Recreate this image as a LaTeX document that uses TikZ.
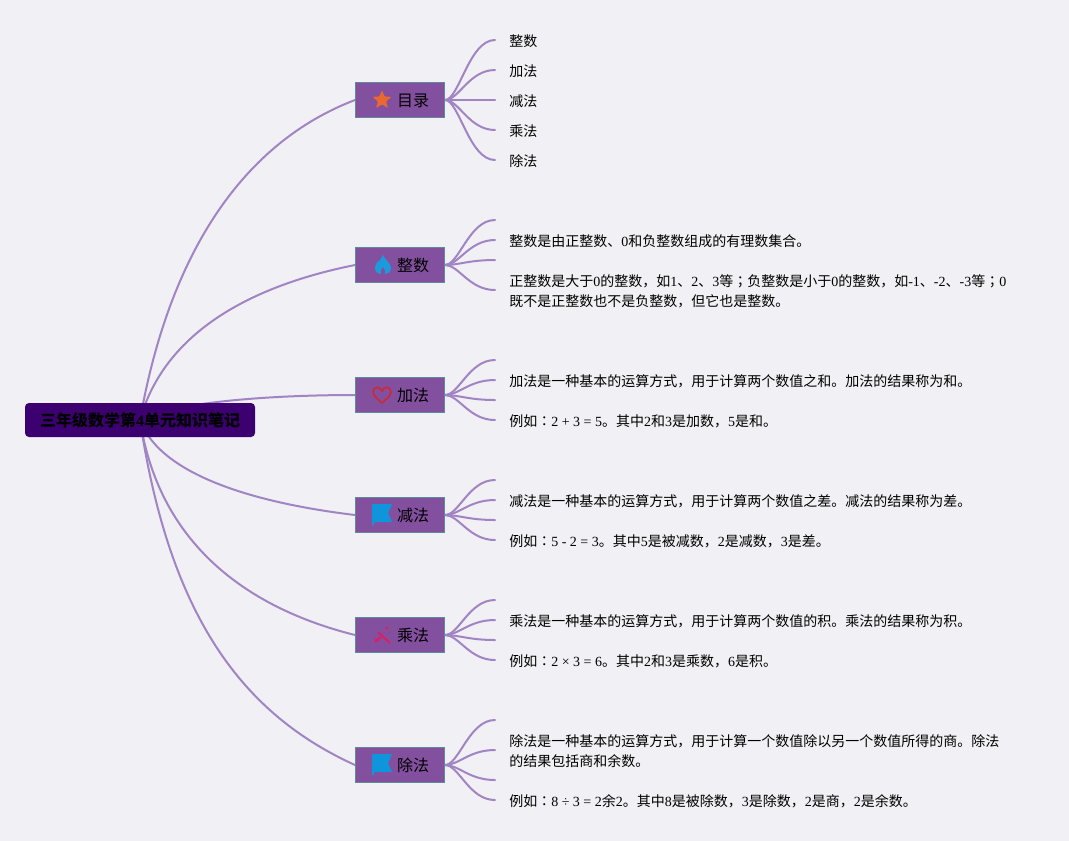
\documentclass[tikz,border=0pt]{standalone}
\usepackage{fontspec}
\setmainfont{Noto Sans CJK SC}
\newfontfamily\latfont{Liberation Serif}
\newfontfamily\jpfont{Noto Sans CJK JP}
\usetikzlibrary{shapes.geometric,backgrounds}
\definecolor{pagecol}{HTML}{F1F0F4}
\definecolor{rootcol}{HTML}{3C0070}
\definecolor{boxcol}{HTML}{83509F}
\definecolor{boxline}{HTML}{5E8A98}
\definecolor{linkcol}{HTML}{A184C4}
\definecolor{starcol}{HTML}{E8682F}
\definecolor{firecol}{HTML}{1C9BDC}
\definecolor{heartcol}{HTML}{C62C3E}
\definecolor{flagcol}{HTML}{0F95DC}
\definecolor{wandcol}{HTML}{D81F68}
\newcommand{\lat}[1]{{\latfont #1}}
\newcommand{\col}{{\jpfont ：}}
\newcommand{\sem}{{\jpfont ；}}
\tikzset{
  rootbox/.style={draw=none,fill=rootcol,rounded corners=3pt,minimum width=172.5pt,minimum height=25.5pt,inner sep=0pt,text height=11.8pt,text depth=2pt,font=\bfseries\fontsize{12pt}{15pt}\selectfont},
  topicbox/.style={draw=boxline,line width=0.75pt,fill=boxcol,minimum width=66.75pt,minimum height=26.25pt,inner sep=0pt,text height=11.8pt,text depth=2pt,font=\fontsize{12pt}{15pt}\selectfont},
  leaf/.style={anchor=west,inner xsep=10.5pt,inner ysep=0pt,align=left,font=\fontsize{10.5pt}{15pt}\selectfont},
  link/.style={draw=linkcol,line width=1.5pt,line cap=round},
  iconstar/.pic={\node[star,star points=5,star point ratio=2.3,fill=starcol,minimum size=15pt,inner sep=0pt,rounded corners=0.7pt] {};},
  iconfire/.pic={\fill[firecol] (0,-10) .. controls (1,-6) and (8,-2) .. (8,3) .. controls (8,7) and (5,9) .. (2,9) .. controls (3,6) and (2,4) .. (0,2) .. controls (-2,4) and (-3,6) .. (-2,9) .. controls (-5,9) and (-8,7) .. (-8,3) .. controls (-8,0) and (-6,-2) .. (-5,-4) .. controls (-4,-3) and (-3,-3) .. (-3,-5) .. controls (-2,-6) and (-1,-8) .. (0,-10) -- cycle;},
  iconheart/.pic={\draw[heartcol,line width=1.4pt,line join=round] (0,8) .. controls (-4,4) and (-9,1) .. (-9,-3) .. controls (-9,-9) and (-2,-9) .. (0,-4) .. controls (2,-9) and (9,-9) .. (9,-3) .. controls (9,1) and (4,4) .. (0,8) -- cycle;},
  iconflag/.pic={\fill[flagcol] (-10,-10) -- (10,-10) -- (6,-1) -- (10,8) -- (-8,8) -- (-8,11) -- (-10,11) -- cycle;},
  iconwand/.pic={\draw[wandcol,line width=1.6pt] (-4,-3) -- (8,8);
    \draw[wandcol,line width=1.6pt] (-7,7) -- (-1,2);
    \fill[wandcol] (-5,5) circle (2) (5,-7) circle (1.6) (8,-3) circle (0.8);},
}
\begin{document}
\begin{tikzpicture}[x=0.75pt,y=-0.75pt]
\useasboundingbox (0,0) rectangle (1069,840);
% centre
\node[rootbox] (root) at (140,420) {三年级数学第\lat{4}单元知识笔记};
% topics
\node[topicbox] (mulu) at (400,100) {\hspace*{19.5pt}目录};
\node[topicbox] (zheng) at (400,265) {\hspace*{19.5pt}整数};
\node[topicbox] (jia) at (400,395) {\hspace*{19.5pt}加法};
\node[topicbox] (jian) at (400,515) {\hspace*{19.5pt}减法};
\node[topicbox] (cheng) at (400,635) {\hspace*{19.5pt}乘法};
\node[topicbox] (chu) at (400,765) {\hspace*{19.5pt}除法};
% icons
\pic at (382,100) {iconstar};
\pic at (383,265) {iconfire};
\pic at (382,395) {iconheart};
\pic at (382,514) {iconflag};
\pic at (382,635) {iconwand};
\pic at (382,764) {iconflag};
% contents, text sits 1 lower than its link end
\node[leaf] (m1) at (495,41) {整数};
\node[leaf] (m2) at (495,71) {加法};
\node[leaf] (m3) at (495,101) {减法};
\node[leaf] (m4) at (495,131) {乘法};
\node[leaf] (m5) at (495,161) {除法};
\coordinate (z1) at (495,221);
\node[leaf] (z2) at (495,241) {整数是由正整数、\lat{0}和负整数组成的有理数集合。};
\coordinate (z3) at (495,261);
\node[leaf] (z4) at (495,291) {正整数是大于\lat{0}的整数，如\lat{1}、\lat{2}、\lat{3}等\sem 负整数是小于\lat{0}的整数，如\lat{-1}、\lat{-2}、\lat{-3}等\sem\lat{0}\\既不是正整数也不是负整数，但它也是整数。};
\coordinate (a1) at (495,361);
\node[leaf] (a2) at (495,381) {加法是一种基本的运算方式，用于计算两个数值之和。加法的结果称为和。};
\coordinate (a3) at (495,401);
\node[leaf] (a4) at (495,421) {例如\col\lat{2 + 3 = 5}。其中\lat{2}和\lat{3}是加数，\lat{5}是和。};
\coordinate (s1) at (495,481);
\node[leaf] (s2) at (495,501) {减法是一种基本的运算方式，用于计算两个数值之差。减法的结果称为差。};
\coordinate (s3) at (495,521);
\node[leaf] (s4) at (495,541) {例如\col\lat{5 - 2 = 3}。其中\lat{5}是被减数，\lat{2}是减数，\lat{3}是差。};
\coordinate (c1) at (495,601);
\node[leaf] (c2) at (495,621) {乘法是一种基本的运算方式，用于计算两个数值的积。乘法的结果称为积。};
\coordinate (c3) at (495,641);
\node[leaf] (c4) at (495,661) {例如\col\lat{2 × 3 = 6}。其中\lat{2}和\lat{3}是乘数，\lat{6}是积。};
\coordinate (d1) at (495,721);
\node[leaf] (d2) at (495,751) {除法是一种基本的运算方式，用于计算一个数值除以另一个数值所得的商。除法\\的结果包括商和余数。};
\coordinate (d3) at (495,781);
\node[leaf] (d4) at (495,801) {例如\col\lat{8 ÷ 3 = 2}余\lat{2}。其中\lat{8}是被除数，\lat{3}是除数，\lat{2}是商，\lat{2}是余数。};
\begin{pgfonlayer}{background}
\fill[pagecol] (-2,-2) rectangle (1071,842);
% from the centre
\draw[link] (root.center) .. controls +(30,-170) and +(-110,42) .. (mulu.west);
\draw[link] (root.center) .. controls +(25,-90) and +(-100,20) .. (zheng.west);
\draw[link] (root.center) .. controls +(40,-20) and +(-70,0) .. (jia.west);
\draw[link] (root.center) .. controls +(20,55) and +(-100,-12) .. (jian.west);
\draw[link] (root.center) .. controls +(20,130) and +(-100,-25) .. (cheng.west);
\draw[link] (root.center) .. controls +(30,200) and +(-110,-50) .. (chu.west);
% to the contents
\foreach \from/\tolist in {mulu/{m1.west,m2.west,m3.west,m4.west,m5.west},zheng/{z1,z2.west,z3,z4.west},jia/{a1,a2.west,a3,a4.west},jian/{s1,s2.west,s3,s4.west},cheng/{c1,c2.west,c3,c4.west},chu/{d1,d2.west,d3,d4.west}}
  \foreach \to in \tolist
    \draw[link] (\from.east) .. controls +(14,0) and +(-26,0) .. ([yshift=0.75pt]\to);
\end{pgfonlayer}
\end{tikzpicture}
\end{document}
